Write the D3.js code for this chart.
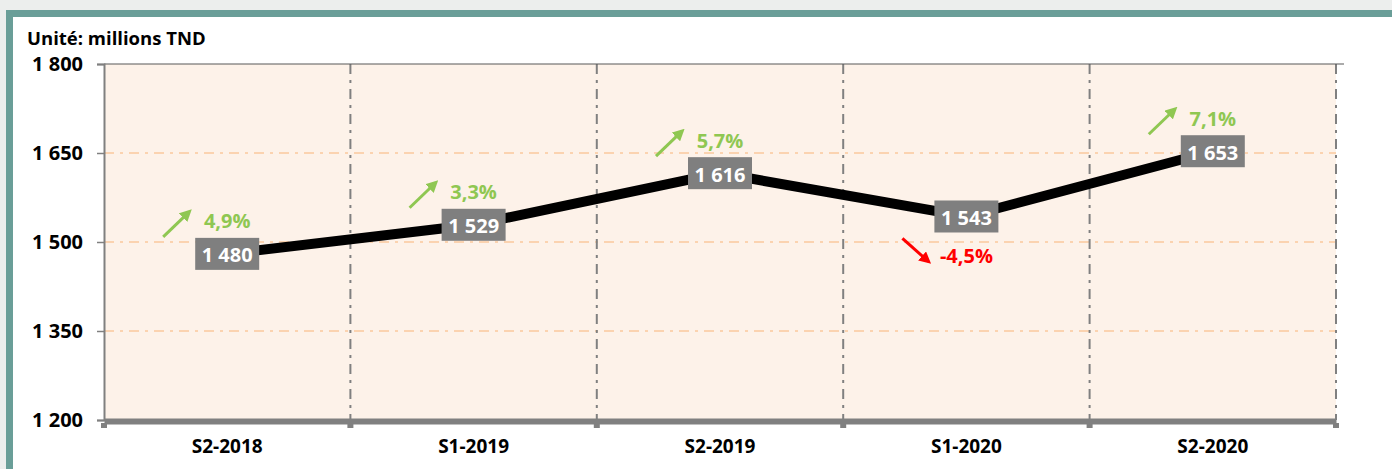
<!DOCTYPE html>
<html>
<head>
<meta charset="utf-8">
<script src="https://cdn.jsdelivr.net/npm/d3@7"></script>
<style>
  body { margin: 0; background: #eceeed; }
  svg { display: block; font-family: "Open Sans", sans-serif; }
</style>
</head>
<body>
<svg id="chart" width="1392" height="469"></svg>
<script>
// data
const categories = ["S2-2018", "S1-2019", "S2-2019", "S1-2020", "S2-2020"];
const values = [1480, 1529, 1616, 1543, 1653];
const changes = [4.9, 3.3, 5.7, -4.5, 7.1];
const yTicks = [1200, 1350, 1500, 1650, 1800];

const W = 1392, H = 469;
const margin = {left: 104, right: 56, top: 64, bottom: 49};
const svg = d3.select("#chart");

const fr = d3.formatLocale({decimal: ",", thousands: " ", grouping: [3], currency: ["", ""], minus: "-"});
const fmtVal = fr.format(",d");
const fmtPct = fr.format(".1f");

// frame
svg.append("rect").attr("x", 6).attr("y", 10).attr("width", W).attr("height", H)
  .attr("fill", "#6a9e98");
svg.append("rect").attr("x", 13).attr("y", 17).attr("width", W).attr("height", H)
  .attr("fill", "#ffffff");

const x = d3.scaleBand().domain(categories).range([margin.left, W - margin.right]);
const y = d3.scaleLinear().domain([1200, 1800]).range([H - margin.bottom, margin.top]);

const x0 = margin.left, x1 = W - margin.right, yb = y(1200), yt = y(1800);

// plot area
svg.append("rect").attr("x", x0).attr("y", yt).attr("width", x1 - x0).attr("height", yb - yt)
  .attr("fill", "#fdf2e9");

// horizontal grid
svg.append("g").selectAll("line").data(yTicks.slice(1, -1)).join("line")
  .attr("x1", x0).attr("x2", x1).attr("y1", d => y(d)).attr("y2", d => y(d))
  .attr("stroke", "#fbd3b0").attr("stroke-width", 2).attr("stroke-dasharray", "10,6,3,6");

// vertical grid at band edges
const edges = categories.slice(1).map(c => x(c)).concat([x1]);
svg.append("g").selectAll("line").data(edges).join("line")
  .attr("x1", d => d).attr("x2", d => d).attr("y1", yt).attr("y2", yb)
  .attr("stroke", "#808080").attr("stroke-width", 2).attr("stroke-dasharray", "10,6,3,6");

// top border
svg.append("line").attr("x1", x0).attr("x2", x1 + 8).attr("y1", yt).attr("y2", yt)
  .attr("stroke", "#595959").attr("stroke-width", 1.2);

// y axis
const yAxis = svg.append("g").attr("transform", `translate(${x0},0)`)
  .call(d3.axisLeft(y).tickValues(yTicks).tickSize(7).tickFormat(fmtVal))
  .attr("font-family", "Open Sans, sans-serif");
yAxis.select(".domain").attr("stroke", "#808080").attr("stroke-width", 2);
yAxis.selectAll(".tick line").attr("stroke", "#808080").attr("stroke-width", 1.5);
yAxis.selectAll(".tick text").attr("x", -21).attr("font-size", 20).attr("font-weight", "bold")
  .attr("fill", "#000");

// x axis
const xAxis = svg.append("g").attr("transform", `translate(0,${yb + 1})`)
  .call(d3.axisBottom(x).tickSize(0))
  .attr("font-family", "Open Sans, sans-serif");
xAxis.select(".domain").attr("stroke", "#808080").attr("stroke-width", 6);
xAxis.selectAll(".tick text").attr("y", 19).attr("font-size", 19).attr("font-weight", "bold")
  .attr("fill", "#000");
svg.append("g").selectAll("rect").data([x0].concat(edges)).join("rect")
  .attr("x", d => d - 3).attr("y", yb + 3).attr("width", 6).attr("height", 5)
  .attr("fill", "#808080");

// unit label
svg.append("text").attr("x", 27).attr("y", 45).attr("font-size", 18.5).attr("font-weight", "bold")
  .text("Unité: millions TND");

// line
const cx = c => x(c) + x.bandwidth() / 2;
svg.append("path").datum(values)
  .attr("d", d3.line().x((d, i) => cx(categories[i])).y(d => y(d)))
  .attr("fill", "none").attr("stroke", "#000").attr("stroke-width", 10);

// arrow markers
const defs = svg.append("defs");
[["up", "#8fc752"], ["down", "#ff0000"]].forEach(([id, col]) => {
  defs.append("marker").attr("id", "arr-" + id).attr("viewBox", "0 0 10 10")
    .attr("refX", 7).attr("refY", 5).attr("markerWidth", 4).attr("markerHeight", 4)
    .attr("orient", "auto").attr("markerUnits", "strokeWidth")
    .append("path").attr("d", "M0,0L10,5L0,10z").attr("fill", col);
});

// change arrows + labels
changes.forEach((c, i) => {
  const px = cx(categories[i]), py = y(values[i]);
  const up = c >= 0;
  const col = up ? "#8fc752" : "#ff0000";
  const sy = up ? -1 : 1;
  svg.append("line")
    .attr("x1", px - 64).attr("y1", py + sy * (up ? 17 : 22))
    .attr("x2", px - 38).attr("y2", py + sy * (up ? 42 : 45))
    .attr("stroke", col).attr("stroke-width", 3)
    .attr("marker-end", `url(#arr-${up ? "up" : "down"})`);
  svg.append("text").attr("x", px).attr("y", py + (up ? -33 : 39))
    .attr("text-anchor", "middle").attr("dominant-baseline", "central")
    .attr("font-size", 20).attr("font-weight", "bold").attr("fill", col)
    .text(fmtPct(c) + "%");
});

// value boxes
values.forEach((v, i) => {
  const px = cx(categories[i]), py = y(v);
  svg.append("rect").attr("x", px - 32).attr("y", py - 16).attr("width", 64).attr("height", 32)
    .attr("fill", "#7f7f7f");
  svg.append("text").attr("x", px).attr("y", py + 1)
    .attr("text-anchor", "middle").attr("dominant-baseline", "central")
    .attr("font-size", 20).attr("font-weight", "bold").attr("fill", "#fff")
    .text(fmtVal(v));
});
</script>
</body>
</html>
